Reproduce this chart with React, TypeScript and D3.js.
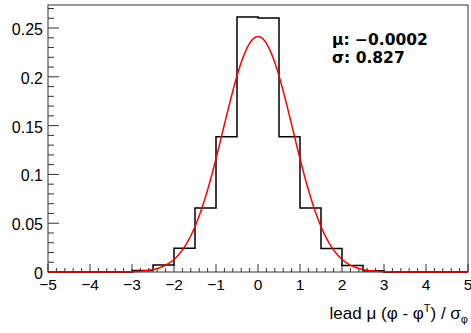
import React from "react";
import * as d3 from "d3";

const binEdgesStart = -5;
const binWidth = 0.5;
const binValues = [
  0, 0, 0, 0, 0.0015, 0.0072, 0.0243, 0.0655, 0.1385, 0.2612,
  0.2602, 0.1385, 0.0655, 0.0242, 0.0066, 0.0013, 0, 0, 0, 0,
];
const fitMean = -0.0002;
const fitSigma = 0.827;
const xTicks = [-5, -4, -3, -2, -1, 0, 1, 2, 3, 4, 5];
const yTicks = [0, 0.05, 0.1, 0.15, 0.2, 0.25];
const yTickLabels = ["0", "0.05", "0.1", "0.15", "0.2", "0.25"];

const W = 471;
const H = 333;
const L = 48, R = 468, T = 5, B = 272;

export default function App() {
  const x = d3.scaleLinear().domain([-5, 5]).range([L, R]);
  const y = d3.scaleLinear().domain([0, 0.2736]).range([B, T]);

  // histogram step outline
  const pts: [number, number][] = [[x(binEdgesStart), y(0)]];
  binValues.forEach((v, i) => {
    const x0 = binEdgesStart + i * binWidth;
    pts.push([x(x0), y(v)]);
    pts.push([x(x0 + binWidth), y(v)]);
  });
  pts.push([x(5), y(0)]);
  const histPath = d3.line()(pts) || "";

  // fit curve: area-normalized gaussian (bin width * unit-normal pdf)
  const amp = binWidth / (fitSigma * Math.sqrt(2 * Math.PI));
  const curvePts: [number, number][] = d3.range(-5, 5.0001, 0.02).map((v) => [
    x(v),
    y(amp * Math.exp(-0.5 * ((v - fitMean) / fitSigma) ** 2)),
  ]);
  const curvePath = d3.line().curve(d3.curveLinear)(curvePts) || "";

  const xMinor = d3.range(-5, 5.0001, 0.2).filter((v) => Math.abs(v - Math.round(v)) > 1e-6);
  const yMinor = d3.range(0, 0.2736, 0.01).filter((v) => Math.abs(v / 0.05 - Math.round(v / 0.05)) > 1e-6);

  const axisColor = "#333";
  const font = "'Liberation Sans', Arial, Helvetica, sans-serif";

  return (
    <svg width={W} height={H} style={{ position: "absolute", left: 0, top: 0, background: "#fff" }}>
      <rect x={0} y={0} width={W} height={H} fill="#fff" />
      {/* frame */}
      <rect x={L} y={T} width={R - L} height={B - T} fill="none" stroke={axisColor} strokeWidth={1} />
      {/* x ticks */}
      {xTicks.map((v) => (
        <line key={"xt" + v} x1={x(v)} x2={x(v)} y1={B} y2={B - 8} stroke={axisColor} strokeWidth={1} />
      ))}
      {xMinor.map((v, i) => (
        <line key={"xm" + i} x1={x(v)} x2={x(v)} y1={B} y2={B - 4} stroke={axisColor} strokeWidth={1} />
      ))}
      {/* y ticks */}
      {yTicks.map((v) => (
        <line key={"yt" + v} x1={L} x2={L + 11} y1={y(v)} y2={y(v)} stroke={axisColor} strokeWidth={1} />
      ))}
      {yMinor.map((v, i) => (
        <line key={"ym" + i} x1={L} x2={L + 6} y1={y(v)} y2={y(v)} stroke={axisColor} strokeWidth={1} />
      ))}
      {/* x labels */}
      {xTicks.map((v) => (
        <text key={"xl" + v} x={x(v)} y={289.5} textAnchor="middle" fontFamily={font} fontSize={15.5} fill="#000">
          {v < 0 ? "\u2212" + Math.abs(v) : String(v)}
        </text>
      ))}
      {/* y labels */}
      {yTicks.map((v, i) => (
        <text key={"yl" + v} x={43} y={y(v) + 7} textAnchor="end" fontFamily={font} fontSize={16} fill="#000">
          {yTickLabels[i]}
        </text>
      ))}
      {/* histogram */}
      <path d={histPath} fill="none" stroke="#000" strokeWidth={1.5} />
      {/* fit */}
      <path d={curvePath} fill="none" stroke="#ff0000" strokeWidth={1.5} />
      {/* stats */}
      <text x={332} y={44.5} fontFamily="'DejaVu Sans', sans-serif" fontWeight="bold" fontSize={15.5} fill="#000">
        {"\u03bc: \u22120.0002"}
      </text>
      <text x={332} y={62.5} fontFamily="'DejaVu Sans', sans-serif" fontWeight="bold" fontSize={15.5} fill="#000">
        {"\u03c3: 0.827"}
      </text>
      {/* x title */}
      <text x={468} y={319} textAnchor="end" fontFamily={font} fontSize={17} fill="#000">
        <tspan>{"lead \u03bc (\u03c6 - \u03c6"}</tspan>
        <tspan fontSize={11} dy={-7}>T</tspan>
        <tspan dy={7}>{") / \u03c3"}</tspan>
        <tspan fontSize={11} dy={4}>{"\u03c6"}</tspan>
      </text>
    </svg>
  );
}
